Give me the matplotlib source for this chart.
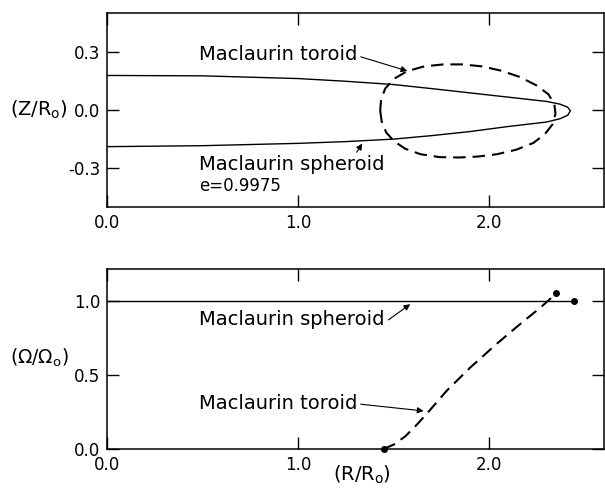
"""
Meridional sections and angular velocity of the Maclaurin spheroid
and Maclaurin toroid sequences.
"""

### Import modules
import numpy as np
import matplotlib.pyplot as plt

### Data
### Meridional section of the Maclaurin spheroid (e = 0.9975)
spheroid_r = [0.0, 0.5, 1.0, 1.25, 1.5, 1.7, 1.9, 2.1, 2.3, 2.37, 2.41, 2.424,
              2.41, 2.37, 2.3, 2.1, 1.9, 1.7, 1.5, 1.25, 1.0, 0.5, 0.0]
spheroid_z = [0.178, 0.176, 0.162, 0.148, 0.131, 0.110, 0.088, 0.066, 0.044,
              0.030, 0.014, -0.005, -0.027, -0.045, -0.062, -0.085, -0.111,
              -0.132, -0.150, -0.163, -0.172, -0.184, -0.189]

### Meridional section of the Maclaurin toroid
toroid_r = [1.429, 1.437, 1.460, 1.500, 1.560, 1.640, 1.740, 1.840, 1.940,
            2.040, 2.140, 2.230, 2.290, 2.330, 2.346, 2.340, 2.310, 2.250,
            2.160, 2.060, 1.960, 1.860, 1.760, 1.660, 1.570, 1.500, 1.455,
            1.434, 1.429]
toroid_z = [-0.003, -0.060, -0.115, -0.160, -0.200, -0.228, -0.243, -0.245,
            -0.240, -0.228, -0.205, -0.170, -0.125, -0.075, -0.020, 0.030,
            0.080, 0.125, 0.170, 0.203, 0.225, 0.235, 0.235, 0.225, 0.200,
            0.160, 0.110, 0.055, -0.003]

### Angular velocity along each sequence
omega_sph_r = [0.0, 2.441]
omega_sph = [1.0, 1.0]
omega_tor_r = [1.447, 1.500, 1.560, 1.621, 1.674, 1.778, 1.900, 2.040, 2.162,
               2.267, 2.351]
omega_tor = [0.0, 0.030, 0.085, 0.165, 0.240, 0.395, 0.550, 0.712, 0.845,
             0.955, 1.052]

xticks = [0.0, 1.0, 2.0]
xlabels = ['0.0', '1.0', '2.0']
zticks = [-0.3, 0.0, 0.3]
zlabels = ['-0.3', '0.0', '0.3']
wticks = [0.0, 0.5, 1.0]
wlabels = ['0.0', '0.5', '1.0']

### Style
plt.rc('font', family='DejaVu Sans', size=12)
plt.rc('mathtext', fontset='dejavusans')
plt.rc('lines', scale_dashes=False)

fig = plt.figure(figsize=(6.05, 4.92), dpi=100)

def set_axes(ax):
    ax.tick_params('both', direction='in', length=8.5, width=1.0,
                   top=True, right=True, labelsize=12)
    ax.tick_params('x', pad=5)
    ax.tick_params('y', pad=5)
    for loc, spine in ax.spines.items():
        spine.set_linewidth(1.1)

arrow = dict(arrowstyle='-|>', color='k', lw=0.8, mutation_scale=9,
             shrinkA=0, shrinkB=0)

###########################################################################
### Top panel: meridional sections
ax = fig.add_axes([0.1769, 0.5793, 0.8215, 0.3943])
set_axes(ax)

ax.plot(spheroid_r, spheroid_z, color='k', linewidth=1.0, zorder=2)
ax.plot(toroid_r, toroid_z, color='k', linewidth=1.5, dashes=(9, 5),
        zorder=2)

ax.set_xticks(xticks, xlabels)
ax.set_yticks(zticks, zlabels)
ax.set_xlim([0, 2.6])
ax.set_ylim([-0.5, 0.5])

ax.annotate('Maclaurin toroid', xy=(1.571, 0.201), xytext=(0.482, 0.284),
            fontsize=14, va='center', ha='left',
            arrowprops=dict(arrow, relpos=(1.02, 0.4)))
ax.annotate('Maclaurin spheroid', xy=(1.335, -0.173), xytext=(0.482, -0.281),
            fontsize=14, va='center', ha='left',
            arrowprops=dict(arrow, relpos=(0.83, 0.85)))
ax.text(0.482, -0.394, 'e=0.9975', fontsize=12, va='center', ha='left')

ax.text(-0.078, 0.0, r'(Z/R$_\mathrm{o}$)', transform=ax.get_yaxis_transform(),
        ha='right', va='center', fontsize=14)

###########################################################################
### Bottom panel: angular velocity
ax = fig.add_axes([0.1769, 0.0874, 0.8215, 0.3659])
set_axes(ax)

ax.plot(omega_sph_r, omega_sph, color='k', linewidth=1.0, zorder=2)
ax.plot(omega_sph_r[-1], omega_sph[-1], 'o', color='k', markersize=4,
        zorder=3)
ax.plot(omega_tor_r, omega_tor, color='k', linewidth=1.5, dashes=(9, 5),
        zorder=2)
ax.plot([omega_tor_r[0], omega_tor_r[-1]], [omega_tor[0], omega_tor[-1]],
        'o', color='k', markersize=4, zorder=3, clip_on=False)

ax.set_xticks(xticks, xlabels)
ax.set_yticks(wticks, wlabels)
ax.set_xlim([0, 2.6])
ax.set_ylim([0, 1.216])

ax.annotate('Maclaurin spheroid', xy=(1.586, 0.978), xytext=(0.482, 0.872),
            fontsize=14, va='center', ha='left',
            arrowprops=dict(arrow, relpos=(1.02, 0.5)))
ax.annotate('Maclaurin toroid', xy=(1.656, 0.257), xytext=(0.482, 0.309),
            fontsize=14, va='center', ha='left',
            arrowprops=dict(arrow, relpos=(1.02, 0.45)))

ax.text(-0.078, 0.615, r'($\Omega$/$\Omega_\mathrm{o}$)',
        transform=ax.get_yaxis_transform(), ha='right', va='center',
        fontsize=13.5)
ax.text(1.335, -0.144, r'(R/R$_\mathrm{o}$)',
        transform=ax.get_xaxis_transform(), ha='center', va='center',
        fontsize=14)

### Save figure
plt.savefig('out.png', dpi=100)
